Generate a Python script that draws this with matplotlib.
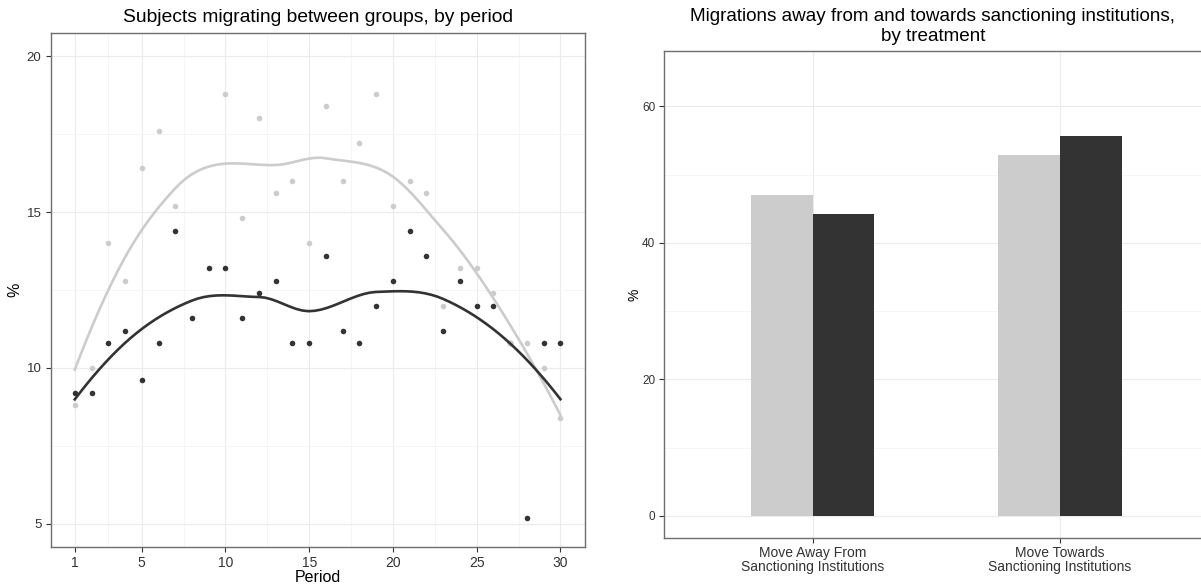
import numpy as np
import matplotlib.pyplot as plt

plt.rcParams['font.family'] = ['Liberation Sans', 'DejaVu Sans']

# data (nan = no visible point)
periods = np.arange(1, 31)
light_pct = [8.8, 10.0, 14.0, 12.8, 16.4, 17.6, 15.2, np.nan, np.nan, 18.8,
             14.8, 18.0, 15.6, 16.0, 14.0, 18.4, 16.0, 17.2, 18.8, 15.2,
             16.0, 15.6, 12.0, 13.2, 13.2, 12.4, 10.8, 10.8, 10.0, 8.4]
dark_pct = [9.2, 9.2, 10.8, 11.2, 9.6, 10.8, 14.4, 11.6, 13.2, 13.2,
            11.6, 12.4, 12.8, 10.8, 10.8, 13.6, 11.2, 10.8, 12.0, 12.8,
            14.4, 13.6, 11.2, 12.8, 12.0, 12.0, 10.8, 5.2, 10.8, 10.8]

categories = ['Move Away From\nSanctioning Institutions',
              'Move Towards\nSanctioning Institutions']
light_bar = [47.1, 52.9]
dark_bar = [44.3, 55.7]

LIGHT = '#cccccc'
DARK = '#333333'


def local_fit(x, y, x0, q):
    # quadratic fit around x0 with tricube weights -> value and slope
    d = np.abs(x - x0)
    h = np.sort(d)[q - 1]
    w = np.clip(1 - (d / h) ** 3, 0, None) ** 3
    A = np.vstack([np.ones_like(x), x - x0, (x - x0) ** 2]).T
    sw = np.sqrt(w)
    coef = np.linalg.lstsq(A * sw[:, None], y * sw, rcond=None)[0]
    return coef[0], coef[1]


def loess(x, y, xs, span=0.75):
    # loess as R does it: fits on kd-tree vertices, cubic hermite in between
    ok = ~np.isnan(y)
    x, y = x[ok], y[ok]
    n = len(x)
    q = int(np.floor(span * n))
    fc = int(np.floor(n * span * 0.2))
    mu = 0.005 * (x.max() - x.min())
    verts = {x.min() - mu, x.max() + mu}
    xsorted = np.sort(x)

    def split(l, u):
        if u - l + 1 <= fc:
            return
        m = (l + u) // 2
        verts.add(xsorted[m - 1])
        split(l, m)
        split(m + 1, u)

    split(1, n)
    v = np.array(sorted(verts))
    fv = np.array([local_fit(x, y, t, q) for t in v])
    out = []
    for t in xs:
        i = min(np.searchsorted(v, t, side='right') - 1, len(v) - 2)
        a, b = v[i], v[i + 1]
        hh = b - a
        s = (t - a) / hh
        h00 = 2 * s**3 - 3 * s**2 + 1
        h10 = s**3 - 2 * s**2 + s
        h01 = -2 * s**3 + 3 * s**2
        h11 = s**3 - s**2
        out.append(h00 * fv[i, 0] + h10 * hh * fv[i, 1]
                   + h01 * fv[i + 1, 0] + h11 * hh * fv[i + 1, 1])
    return np.array(out)


def style(ax):
    ax.set_facecolor('white')
    for s in ax.spines.values():
        s.set_color('#6e6e6e')
        s.set_linewidth(1.0)
    ax.grid(True, which='major', color='#ebebeb', lw=0.8, zorder=0)
    ax.grid(True, which='minor', color='#f4f4f4', lw=0.6, zorder=0)
    ax.set_axisbelow(True)
    ax.tick_params(which='major', length=3.5, width=0.8, color='#333333',
                   labelcolor='#333333', pad=3)
    ax.tick_params(which='minor', length=0)


fig = plt.figure(figsize=(12.01, 5.86), dpi=100)
W, H = 1201, 586

# left panel
ax1 = fig.add_axes([50.5 / W, (H - 547.3) / H, 534.2 / W, 514.6 / H])
style(ax1)
x = periods.astype(float)
xs = np.linspace(1, 30, 80)
ax1.scatter(x, dark_pct, s=16, color=DARK, lw=0, zorder=3)
ax1.scatter(x, light_pct, s=16, color=LIGHT, lw=0, zorder=4)
ax1.plot(xs, loess(x, np.array(light_pct), xs), color=LIGHT, lw=1.9, zorder=5)
ax1.plot(xs, loess(x, np.array(dark_pct), xs), color=DARK, lw=1.9, zorder=6)
ax1.set_xlim(-0.45, 31.45)
ax1.set_ylim(4.25, 20.75)
ax1.set_xticks([1, 5, 10, 15, 20, 25, 30])
ax1.set_xticks([3, 7.5, 12.5, 17.5, 22.5, 27.5], minor=True)
ax1.set_yticks([5, 10, 15, 20])
ax1.set_yticks([7.5, 12.5, 17.5], minor=True)
ax1.tick_params(axis='x', labelsize=10)
ax1.tick_params(axis='y', labelsize=9.5)
fig.text(317.6 / W, 1 - 17 / H, 'Subjects migrating between groups, by period',
         ha='center', va='center', fontsize=13.9)
fig.text(317.6 / W, 1 - 578 / H, 'Period', ha='center', va='center', fontsize=11.5)
fig.text(15 / W, 1 - 290 / H, '%', ha='center', va='center', rotation=90, fontsize=11.5)

# right panel
ax2 = fig.add_axes([664.4 / W, (H - 537.7) / H, 543.6 / W, 486.4 / H])
style(ax2)
pos = np.arange(len(categories))
bw = 0.25
ax2.bar(pos - bw / 2, light_bar, width=bw, color=LIGHT, zorder=3)
ax2.bar(pos + bw / 2, dark_bar, width=bw, color=DARK, zorder=3)
ax2.set_xlim(-0.6, 1.6)
ax2.set_ylim(-3.18, 68.08)
ax2.set_xticks(pos)
ax2.set_xticklabels(categories, fontsize=10, linespacing=1.0)
ax2.tick_params(axis='x', pad=2.5)
ax2.set_yticks([0, 20, 40, 60])
ax2.set_yticks([10, 30, 50], minor=True)
ax2.tick_params(axis='y', labelsize=8.5)
fig.text(933 / W, 1 - 26.5 / H,
         'Migrations away from and towards sanctioning institutions,\nby treatment',
         ha='center', va='center', fontsize=13.55, linespacing=1.25)
fig.text(634.5 / W, 1 - 294.5 / H, '%', ha='center', va='center', rotation=90, fontsize=10)

fig.savefig('out.png', dpi=100)
